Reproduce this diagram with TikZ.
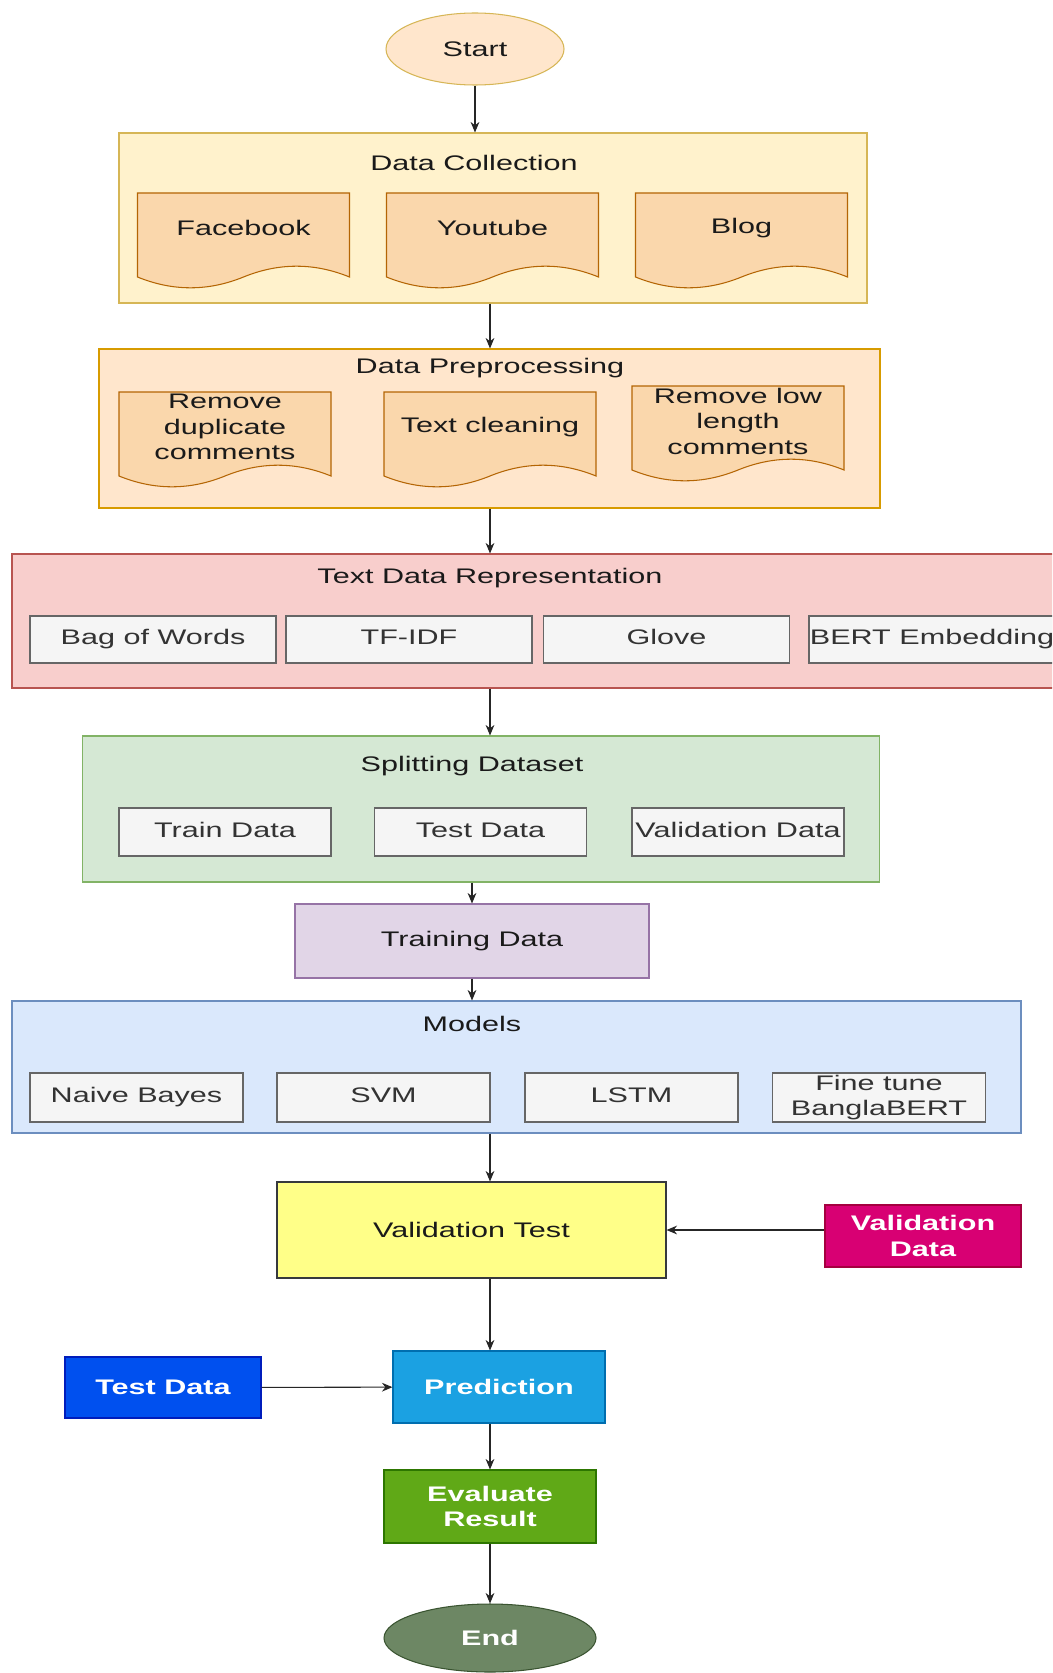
\documentclass[tikz,border=0pt]{standalone}
\usepackage{fontspec}
\setmainfont{Liberation Sans}[FakeStretch=1.45]
\usetikzlibrary{shapes.geometric, arrows.meta}

\definecolor{txt}{HTML}{1A1A1A}
\definecolor{startfill}{HTML}{FFE6CC}
\definecolor{startline}{HTML}{D6B656}
\definecolor{dcfill}{HTML}{FFF2CC}
\definecolor{dcline}{HTML}{D6B656}
\definecolor{docfill}{HTML}{FAD7AC}
\definecolor{docstroke}{HTML}{B46504}
\definecolor{dpfill}{HTML}{FFE6CC}
\definecolor{dpline}{HTML}{D79B00}
\definecolor{tdrfill}{HTML}{F8CECC}
\definecolor{tdrline}{HTML}{B85450}
\definecolor{itemfill}{HTML}{F5F5F5}
\definecolor{itemline}{HTML}{666666}
\definecolor{itemtext}{HTML}{333333}
\definecolor{sdfill}{HTML}{D5E8D4}
\definecolor{sdline}{HTML}{82B366}
\definecolor{tdfill}{HTML}{E1D5E7}
\definecolor{tdline}{HTML}{9673A6}
\definecolor{mfill}{HTML}{DAE8FC}
\definecolor{mline}{HTML}{6C8EBF}
\definecolor{vtfill}{HTML}{FFFF88}
\definecolor{vtline}{HTML}{36393D}
\definecolor{vdfill}{HTML}{D80073}
\definecolor{vdline}{HTML}{A50040}
\definecolor{tefill}{HTML}{0050EF}
\definecolor{teline}{HTML}{001DBC}
\definecolor{prfill}{HTML}{1BA1E2}
\definecolor{prline}{HTML}{006EAF}
\definecolor{evfill}{HTML}{60A917}
\definecolor{evline}{HTML}{2D7600}
\definecolor{endfill}{HTML}{6D8764}
\definecolor{endline}{HTML}{3A5431}

% document shape: wavy bottom, text in the upper part
\newcommand{\docnode}[3]{%
  \begin{scope}[shift={(#2)}]
    \draw[docshape] (-2.12,0.96) -- (2.12,0.96) -- (2.12,-0.72)
      .. controls (1.413,-0.432) and (0.707,-0.432) .. (0,-0.72)
      .. controls (-0.707,-1.008) and (-1.413,-1.008) .. (-2.12,-0.72) -- cycle;
    \node[doctext] (#1) at (0,0.26) {#3};
  \end{scope}}

\begin{document}
\begin{tikzpicture}[
        every node/.style={font=\fontsize{12}{14.5}\selectfont},
        container/.style={draw, line width=0.6pt, inner sep=0pt},
        title/.style={text=txt},
        docshape/.style={draw=docstroke, fill=docfill, line width=0.6pt},
        doctext/.style={text=txt, align=center, inner sep=0pt},
        item/.style={draw=itemline, fill=itemfill, text=itemtext, line width=0.6pt, inner sep=0pt, align=center},
        word/.style={item, text height=1.6ex, text depth=0.45ex},
        procbox/.style={draw, line width=0.6pt, inner sep=0pt, align=center},
        whitebox/.style={procbox, text=white, font=\fontsize{12}{14.5}\selectfont\bfseries},
        terminal/.style={ellipse, draw, line width=0.6pt, inner sep=0pt},
        arr/.style={-{Stealth[length=6pt, width=5pt]}, line width=0.6pt, draw=black!85}
    ]
    \useasboundingbox (0,0) rectangle (21.04,-33.46);
    \clip (0,0) rectangle (21.04,-33.46);
    \coordinate (col) at (9.8,0);

    % Start
    \node[terminal, draw=startline, fill=startfill, text=txt, minimum width=3.56cm, minimum height=1.44cm] (start) at (9.5,-0.98) {Start};

    % Data collection
    \node[container, draw=dcline, fill=dcfill, minimum width=14.96cm, minimum height=3.4cm] (dc) at (9.86,-4.36) {};
    \node[title] (dctitle) at (9.48,-3.26) {Data Collection};
    \docnode{fb}{4.87,-4.82}{Facebook}
    \docnode{yt}{9.85,-4.82}{Youtube}
    \docnode{blog}{14.83,-4.82}{Blog}

    % Data preprocessing
    \node[container, draw=dpline, fill=dpfill, minimum width=15.62cm, minimum height=3.18cm] (dp) at (9.79,-8.57) {};
    \node[title] (dptitle) at (9.8,-7.36) {Data Preprocessing};
    \docnode{dup}{4.5,-8.80}{Remove\\duplicate\\comments}
    \docnode{clean}{9.80,-8.80}{Text cleaning}
    \docnode{low}{14.76,-8.68}{Remove low\\length\\comments}

    % Text data representation
    \node[container, draw=tdrline, fill=tdrfill, minimum width=21.06cm, minimum height=2.68cm] (tdr) at (10.77,-12.42) {};
    \node[title] (tdrtitle) at (9.8,-11.56) {Text Data Representation};
    \node[word, minimum width=4.92cm, minimum height=0.94cm] (bow) at (3.06,-12.79) {Bag of Words};
    \node[word, minimum width=4.92cm, minimum height=0.94cm] (tfidf) at (8.18,-12.79) {TF-IDF};
    \node[word, minimum width=4.92cm, minimum height=0.94cm] (glove) at (13.33,-12.79) {Glove};
    \node[word, minimum width=4.92cm, minimum height=0.94cm] (bertemb) at (18.64,-12.79) {BERT Embedding};

    % Splitting dataset
    \node[container, draw=sdline, fill=sdfill, minimum width=15.94cm, minimum height=2.92cm] (sd) at (9.62,-16.18) {};
    \node[title] (sdtitle) at (9.44,-15.32) {Splitting Dataset};
    \node[word, minimum width=4.24cm, minimum height=0.96cm] (train) at (4.5,-16.64) {Train Data};
    \node[word, minimum width=4.24cm, minimum height=0.96cm] (test) at (9.61,-16.64) {Test Data};
    \node[word, minimum width=4.24cm, minimum height=0.96cm] (valid) at (14.76,-16.64) {Validation Data};

    \node[procbox, draw=tdline, fill=tdfill, text=txt, minimum width=7.08cm, minimum height=1.48cm] (td) at (9.44,-18.82) {Training Data};

    % Models
    \node[container, draw=mline, fill=mfill, minimum width=20.18cm, minimum height=2.64cm] (models) at (10.33,-21.34) {};
    \node[title] (mtitle) at (9.44,-20.48) {Models};
    \node[word, minimum width=4.26cm, minimum height=0.98cm] (nb) at (2.73,-21.95) {Naive Bayes};
    \node[word, minimum width=4.26cm, minimum height=0.98cm] (svm) at (7.67,-21.95) {SVM};
    \node[word, minimum width=4.26cm, minimum height=0.98cm] (lstm) at (12.63,-21.95) {LSTM};
    \node[item, minimum width=4.26cm, minimum height=0.98cm] (bbert) at (17.58,-21.95) {Fine tune\\BanglaBERT};

    % Evaluation part
    \node[procbox, draw=vtline, fill=vtfill, text=txt, minimum width=7.78cm, minimum height=1.92cm] (vt) at (9.43,-24.6) {Validation Test};
    \node[whitebox, draw=vdline, fill=vdfill, minimum width=3.92cm, minimum height=1.24cm] (vd) at (18.46,-24.72) {Validation\\Data};
    \node[whitebox, draw=prline, fill=prfill, minimum width=4.24cm, minimum height=1.44cm] (pred) at (9.98,-27.74) {Prediction};
    \node[whitebox, draw=teline, fill=tefill, minimum width=3.92cm, minimum height=1.22cm] (tdata) at (3.26,-27.75) {Test Data};
    \node[whitebox, draw=evline, fill=evfill, minimum width=4.24cm, minimum height=1.46cm] (eval) at (9.8,-30.13) {Evaluate\\Result};
    \node[terminal, draw=endline, fill=endfill, text=white, font=\fontsize{12}{14.5}\selectfont\bfseries, minimum width=4.24cm, minimum height=1.36cm] (end) at (9.8,-32.76) {End};

    \draw[arr] (start.south) -- (start.south |- dc.north);
    \draw[arr] (dc.south -| col) -- (dp.north -| col);
    \draw[arr] (dp.south -| col) -- (tdr.north -| col);
    \draw[arr] (tdr.south -| col) -- (sd.north -| col);
    \draw[arr] (sd.south -| td) -- (td.north);
    \draw[arr] (td.south) -- (td.south |- models.north);
    \draw[arr] (models.south -| col) -- (vt.north -| col);
    \draw[arr] (vd.west |- vt) -- (vt.east);
    \draw[arr] (vt.south -| col) -- (pred.north -| col);
    \draw[arr] (tdata) -- (pred);
    \draw[arr] (pred.south -| col) -- (eval.north);
    \draw[arr] (eval) -- (end);
\end{tikzpicture}
\end{document}
